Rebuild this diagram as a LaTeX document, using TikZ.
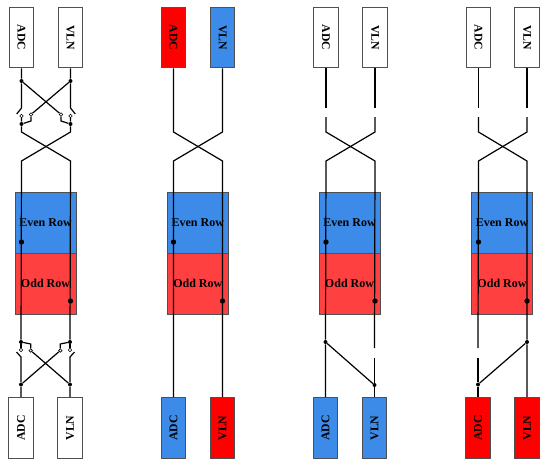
\documentclass[tikz,border=0pt]{standalone}
\usepackage{fontspec}
\setmainfont{Liberation Serif}
\definecolor{rowblue}{HTML}{3D8BE8}
\definecolor{rowred}{HTML}{FF4040}
\definecolor{edgegray}{HTML}{505050}
\tikzset{
  chip/.style={draw=edgegray, line width=0.7pt, inner sep=0pt, minimum width=45.5pt, minimum height=18.3pt, font=\bfseries\fontsize{8.8}{10}\selectfont},
  chiptop/.style={chip, rotate=-90},
  chipbot/.style={chip, rotate=90},
  rowbox/.style={draw=edgegray, line width=0.6pt, inner sep=0pt, minimum width=45.7pt, minimum height=45.7pt, text depth=0pt, font=\bfseries\fontsize{9}{11}\selectfont},
  bigdot/.style={circle, fill=black, inner sep=0pt, minimum size=4pt},
  smalldot/.style={circle, fill=black, inner sep=0pt, minimum size=3pt},
  contact/.style={circle, draw=black, fill=white, line width=0.5pt, inner sep=0pt, minimum size=2.6pt},
  wire/.style={line width=0.9pt}
}
\begin{document}
\begin{tikzpicture}[x=0.75pt, y=-0.75pt]
    \useasboundingbox (0,0) rectangle (550,469);

    % first column: all switches
    \node[rowbox, fill=rowblue] (evenA) at (45.5,222.5) {Even Row};
    \node[rowbox, fill=rowred] (oddA) at (45.5,283.5) {Odd Row};
    \node[chiptop] (adcTopA) at (21.5,37.5) {ADC};
    \node[chiptop] (vlnTopA) at (70.5,37.5) {VLN};
    \node[chipbot] (adcBotA) at (21,428) {ADC};
    \node[chipbot] (vlnBotA) at (70,428) {VLN};
    \node[smalldot] (jaA) at (21.5,81) {};
    \node[smalldot] (jbA) at (70.5,81) {};
    \coordinate (armaA) at (21.5,108);
    \coordinate (armbA) at (70.5,108);
    \coordinate (tipaA) at (16.7,114);
    \coordinate (tipbA) at (75.3,114);
    \node[contact] (caA) at (21.5,116) {};
    \node[contact] (cbA) at (70.5,116) {};
    \node[contact] (xaA) at (31,114.5) {};
    \node[contact] (xbA) at (61,114.5) {};
    \coordinate (xaendA) at (31,121);
    \coordinate (xbendA) at (61,121);
    \node[smalldot] (kaA) at (21.5,124) {};
    \node[smalldot] (kbA) at (70.5,124) {};
    \coordinate (upaA) at (21.5,132);
    \coordinate (upbA) at (70.5,132);
    \coordinate (loaA) at (21.5,161);
    \coordinate (lobA) at (70.5,161);
    \node[bigdot] (evendotA) at (21.5,242) {};
    \node[bigdot] (odddotA) at (70.5,301) {};
    \node[smalldot] (maA) at (21,342) {};
    \node[smalldot] (mbA) at (70,342) {};
    \coordinate (yaendA) at (30.7,344);
    \coordinate (ybendA) at (60.3,344);
    \node[contact] (yaA) at (30.7,350.5) {};
    \node[contact] (ybA) at (60.3,350.5) {};
    \node[contact] (daA) at (21,350) {};
    \node[contact] (dbA) at (70,350) {};
    \coordinate (tiqaA) at (16.5,352);
    \coordinate (tiqbA) at (74.5,352);
    \coordinate (armcA) at (21,357);
    \coordinate (armdA) at (70,357);
    \node[smalldot] (naA) at (21,384.5) {};
    \node[smalldot] (nbA) at (70,384.5) {};
    \draw[wire] (adcTopA) -- (jaA) -- (armaA) -- (tipaA);
    \draw[wire] (vlnTopA) -- (jbA) -- (armbA) -- (tipbA);
    \draw[wire] (jaA) -- (xbA);
    \draw[wire] (jbA) -- (xaA);
    \draw[wire] (xaA) -- (xaendA) -- (kaA);
    \draw[wire] (xbA) -- (xbendA) -- (kbA);
    \draw[wire] (caA) -- (kaA) -- (upaA) -- (lobA) -- (mbA);
    \draw[wire] (cbA) -- (kbA) -- (upbA) -- (loaA) -- (maA);
    \draw[wire] (maA) -- (daA);
    \draw[wire] (mbA) -- (dbA);
    \draw[wire] (maA) -- (yaendA) -- (yaA) -- (nbA);
    \draw[wire] (mbA) -- (ybendA) -- (ybA) -- (naA);
    \draw[wire] (tiqaA) -- (armcA) -- (naA) -- (adcBotA);
    \draw[wire] (tiqbA) -- (armdA) -- (nbA) -- (vlnBotA);

    % second column: straight through
    \node[rowbox, fill=rowblue] (evenB) at (197.8,222.5) {Even Row};
    \node[rowbox, fill=rowred] (oddB) at (197.8,283.5) {Odd Row};
    \node[chiptop, fill=red] (adcTopB) at (173.5,37.5) {ADC};
    \node[chiptop, fill=rowblue] (vlnTopB) at (222.5,37.5) {VLN};
    \node[chipbot, fill=rowblue] (adcBotB) at (173.5,428) {ADC};
    \node[chipbot, fill=red] (vlnBotB) at (222.5,428) {VLN};
    \coordinate (upaB) at (173.5,132);
    \coordinate (upbB) at (222.5,132);
    \coordinate (loaB) at (173.5,161);
    \coordinate (lobB) at (222.5,161);
    \node[bigdot] (evendotB) at (173.5,242) {};
    \node[bigdot] (odddotB) at (222.5,301) {};
    \draw[wire] (adcTopB) -- (upaB) -- (lobB) -- (vlnBotB);
    \draw[wire] (vlnTopB) -- (upbB) -- (loaB) -- (adcBotB);

    % third column: gaps on top, ADC joined below
    \node[rowbox, fill=rowblue] (evenC) at (349.5,222.5) {Even Row};
    \node[rowbox, fill=rowred] (oddC) at (349.5,283.5) {Odd Row};
    \node[chiptop] (adcTopC) at (326,37.5) {ADC};
    \node[chiptop] (vlnTopC) at (375,37.5) {VLN};
    \node[chipbot, fill=rowblue] (adcBotC) at (325.5,428) {ADC};
    \node[chipbot, fill=rowblue] (vlnBotC) at (374.5,428) {VLN};
    \coordinate (gapaC) at (326,108);
    \coordinate (gapbC) at (375,108);
    \coordinate (resaC) at (326,117);
    \coordinate (resbC) at (375,117);
    \coordinate (upaC) at (326,132);
    \coordinate (upbC) at (375,132);
    \coordinate (loaC) at (326,161);
    \coordinate (lobC) at (375,161);
    \node[bigdot] (evendotC) at (326,242) {};
    \node[bigdot] (odddotC) at (375,301) {};
    \node[smalldot] (maC) at (325.5,342) {};
    \node[smalldot] (nbC) at (374.5,385) {};
    \coordinate (gapdC) at (374.5,348);
    \coordinate (rescC) at (374.5,358);
    \draw[wire] (adcTopC) -- (gapaC);
    \draw[wire] (vlnTopC) -- (gapbC);
    \draw[wire] (resaC) -- (upaC) -- (lobC) -- (gapdC);
    \draw[wire] (resbC) -- (upbC) -- (loaC) -- (maC) -- (adcBotC);
    \draw[wire] (maC) -- (nbC);
    \draw[wire] (rescC) -- (nbC) -- (vlnBotC);

    % fourth column: gaps on top, VLN joined below
    \node[rowbox, fill=rowblue] (evenD) at (502,222.5) {Even Row};
    \node[rowbox, fill=rowred] (oddD) at (502,283.5) {Odd Row};
    \node[chiptop] (adcTopD) at (478.5,37.5) {ADC};
    \node[chiptop] (vlnTopD) at (527,37.5) {VLN};
    \node[chipbot, fill=red] (adcBotD) at (478,428) {ADC};
    \node[chipbot, fill=red] (vlnBotD) at (527,428) {VLN};
    \coordinate (gapaD) at (478.5,108);
    \coordinate (gapbD) at (527,108);
    \coordinate (resaD) at (478.5,117);
    \coordinate (resbD) at (527,117);
    \coordinate (upaD) at (478.5,132);
    \coordinate (upbD) at (527,132);
    \coordinate (loaD) at (478.5,161);
    \coordinate (lobD) at (527,161);
    \node[bigdot] (evendotD) at (478.5,242) {};
    \node[bigdot] (odddotD) at (527,301) {};
    \node[smalldot] (mbD) at (527,342) {};
    \node[smalldot] (naD) at (478,384.5) {};
    \coordinate (gapcD) at (478,348);
    \coordinate (rescD) at (478,358);
    \draw[wire] (adcTopD) -- (gapaD);
    \draw[wire] (vlnTopD) -- (gapbD);
    \draw[wire] (resaD) -- (upaD) -- (lobD) -- (mbD) -- (vlnBotD);
    \draw[wire] (resbD) -- (upbD) -- (loaD) -- (gapcD);
    \draw[wire] (mbD) -- (naD);
    \draw[wire] (rescD) -- (naD) -- (adcBotD);
  \end{tikzpicture}
\end{document}
